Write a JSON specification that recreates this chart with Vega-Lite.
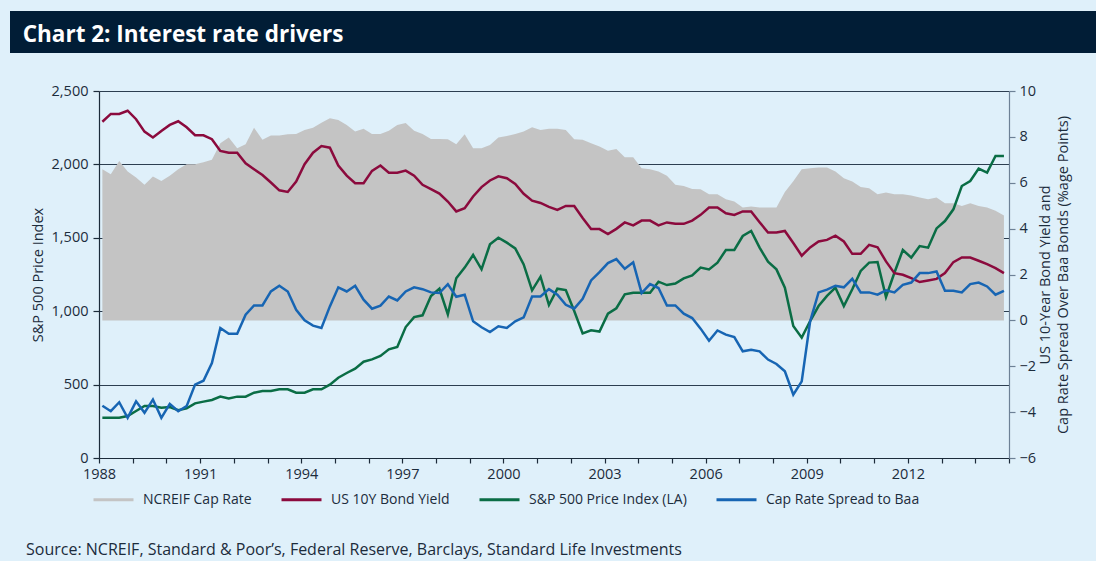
{
  "$schema": "https://vega.github.io/schema/vega-lite/v6.json",
  "background": "#dff0fa",
  "padding": {"left": 10, "top": 11, "right": 0, "bottom": 3},
  "spacing": 30,
  "config": {
    "font": "Open Sans",
    "view": {"stroke": null},
    "axis": {
      "labelFont": "Open Sans", "labelFontSize": 14.5, "labelColor": "#1c2c3c",
      "titleFont": "Open Sans", "titleFontSize": 14.5, "titleFontWeight": "normal", "titleColor": "#1c2c3c",
      "domainColor": "#1c2b3a", "tickColor": "#1c2b3a", "domainWidth": 1.2, "tickWidth": 1.2
    }
  },
  "datasets": {
    "d": [
      {"t": 1988.10, "cap": 6.59, "bond": 8.66, "sp": 275, "spread": -3.72},
      {"t": 1988.35, "cap": 6.37, "bond": 9.00, "sp": 275, "spread": -3.96},
      {"t": 1988.60, "cap": 6.95, "bond": 9.00, "sp": 275, "spread": -3.57},
      {"t": 1988.85, "cap": 6.49, "bond": 9.14, "sp": 286, "spread": -4.25},
      {"t": 1989.10, "cap": 6.23, "bond": 8.77, "sp": 320, "spread": -3.53},
      {"t": 1989.35, "cap": 5.91, "bond": 8.23, "sp": 354, "spread": -4.03},
      {"t": 1989.60, "cap": 6.27, "bond": 7.97, "sp": 354, "spread": -3.45},
      {"t": 1989.85, "cap": 6.08, "bond": 8.26, "sp": 343, "spread": -4.25},
      {"t": 1990.10, "cap": 6.31, "bond": 8.52, "sp": 347, "spread": -3.64},
      {"t": 1990.35, "cap": 6.59, "bond": 8.68, "sp": 325, "spread": -3.96},
      {"t": 1990.60, "cap": 6.81, "bond": 8.42, "sp": 338, "spread": -3.74},
      {"t": 1990.85, "cap": 6.81, "bond": 8.07, "sp": 372, "spread": -2.80},
      {"t": 1991.10, "cap": 6.89, "bond": 8.07, "sp": 384, "spread": -2.63},
      {"t": 1991.35, "cap": 7.00, "bond": 7.90, "sp": 395, "spread": -1.86},
      {"t": 1991.60, "cap": 7.72, "bond": 7.39, "sp": 418, "spread": -0.33},
      {"t": 1991.85, "cap": 7.97, "bond": 7.31, "sp": 406, "spread": -0.58},
      {"t": 1992.10, "cap": 7.50, "bond": 7.31, "sp": 418, "spread": -0.58},
      {"t": 1992.35, "cap": 7.68, "bond": 6.85, "sp": 418, "spread": 0.25},
      {"t": 1992.60, "cap": 8.40, "bond": 6.59, "sp": 445, "spread": 0.65},
      {"t": 1992.85, "cap": 7.87, "bond": 6.34, "sp": 456, "spread": 0.65},
      {"t": 1993.10, "cap": 8.06, "bond": 6.01, "sp": 456, "spread": 1.26},
      {"t": 1993.35, "cap": 8.06, "bond": 5.67, "sp": 468, "spread": 1.51},
      {"t": 1993.60, "cap": 8.11, "bond": 5.60, "sp": 468, "spread": 1.26},
      {"t": 1993.85, "cap": 8.13, "bond": 6.05, "sp": 445, "spread": 0.46},
      {"t": 1994.10, "cap": 8.30, "bond": 6.81, "sp": 445, "spread": 0.00},
      {"t": 1994.35, "cap": 8.40, "bond": 7.31, "sp": 468, "spread": -0.23},
      {"t": 1994.60, "cap": 8.62, "bond": 7.60, "sp": 468, "spread": -0.33},
      {"t": 1994.85, "cap": 8.81, "bond": 7.53, "sp": 500, "spread": 0.61},
      {"t": 1995.10, "cap": 8.74, "bond": 6.75, "sp": 547, "spread": 1.44},
      {"t": 1995.35, "cap": 8.52, "bond": 6.31, "sp": 579, "spread": 1.26},
      {"t": 1995.60, "cap": 8.23, "bond": 5.98, "sp": 609, "spread": 1.51},
      {"t": 1995.85, "cap": 8.35, "bond": 5.98, "sp": 656, "spread": 0.90},
      {"t": 1996.10, "cap": 8.13, "bond": 6.52, "sp": 672, "spread": 0.51},
      {"t": 1996.35, "cap": 8.13, "bond": 6.75, "sp": 695, "spread": 0.64},
      {"t": 1996.60, "cap": 8.27, "bond": 6.44, "sp": 740, "spread": 1.04},
      {"t": 1996.85, "cap": 8.52, "bond": 6.44, "sp": 756, "spread": 0.87},
      {"t": 1997.10, "cap": 8.61, "bond": 6.53, "sp": 892, "spread": 1.26},
      {"t": 1997.35, "cap": 8.27, "bond": 6.31, "sp": 960, "spread": 1.44},
      {"t": 1997.60, "cap": 8.13, "bond": 5.91, "sp": 972, "spread": 1.36},
      {"t": 1997.85, "cap": 7.91, "bond": 5.72, "sp": 1104, "spread": 1.22},
      {"t": 1998.10, "cap": 7.91, "bond": 5.53, "sp": 1153, "spread": 1.19},
      {"t": 1998.35, "cap": 7.90, "bond": 5.18, "sp": 979, "spread": 1.58},
      {"t": 1998.60, "cap": 7.68, "bond": 4.75, "sp": 1224, "spread": 1.03},
      {"t": 1998.85, "cap": 8.11, "bond": 4.89, "sp": 1297, "spread": 1.12},
      {"t": 1999.10, "cap": 7.50, "bond": 5.40, "sp": 1383, "spread": -0.04},
      {"t": 1999.35, "cap": 7.50, "bond": 5.81, "sp": 1285, "spread": -0.30},
      {"t": 1999.60, "cap": 7.65, "bond": 6.10, "sp": 1456, "spread": -0.51},
      {"t": 1999.85, "cap": 7.97, "bond": 6.28, "sp": 1501, "spread": -0.26},
      {"t": 2000.10, "cap": 8.04, "bond": 6.20, "sp": 1467, "spread": -0.33},
      {"t": 2000.35, "cap": 8.13, "bond": 5.95, "sp": 1428, "spread": -0.04},
      {"t": 2000.60, "cap": 8.23, "bond": 5.52, "sp": 1319, "spread": 0.13},
      {"t": 2000.85, "cap": 8.42, "bond": 5.22, "sp": 1142, "spread": 1.04},
      {"t": 2001.10, "cap": 8.30, "bond": 5.12, "sp": 1235, "spread": 1.04},
      {"t": 2001.35, "cap": 8.35, "bond": 4.95, "sp": 1042, "spread": 1.36},
      {"t": 2001.60, "cap": 8.35, "bond": 4.82, "sp": 1153, "spread": 1.12},
      {"t": 2001.85, "cap": 8.30, "bond": 4.99, "sp": 1144, "spread": 0.68},
      {"t": 2002.10, "cap": 7.90, "bond": 4.99, "sp": 1001, "spread": 0.51},
      {"t": 2002.35, "cap": 7.87, "bond": 4.46, "sp": 849, "spread": 0.94},
      {"t": 2002.60, "cap": 7.72, "bond": 3.98, "sp": 870, "spread": 1.74},
      {"t": 2002.85, "cap": 7.58, "bond": 3.98, "sp": 861, "spread": 2.10},
      {"t": 2003.10, "cap": 7.39, "bond": 3.76, "sp": 983, "spread": 2.50},
      {"t": 2003.35, "cap": 7.47, "bond": 3.99, "sp": 1020, "spread": 2.67},
      {"t": 2003.60, "cap": 7.11, "bond": 4.27, "sp": 1115, "spread": 2.25},
      {"t": 2003.85, "cap": 7.11, "bond": 4.14, "sp": 1126, "spread": 2.53},
      {"t": 2004.10, "cap": 6.63, "bond": 4.35, "sp": 1126, "spread": 1.19},
      {"t": 2004.35, "cap": 6.59, "bond": 4.35, "sp": 1126, "spread": 1.58},
      {"t": 2004.60, "cap": 6.49, "bond": 4.14, "sp": 1201, "spread": 1.41},
      {"t": 2004.85, "cap": 6.31, "bond": 4.27, "sp": 1178, "spread": 0.65},
      {"t": 2005.10, "cap": 5.91, "bond": 4.21, "sp": 1188, "spread": 0.65},
      {"t": 2005.35, "cap": 5.86, "bond": 4.21, "sp": 1224, "spread": 0.29},
      {"t": 2005.60, "cap": 5.73, "bond": 4.35, "sp": 1244, "spread": 0.10},
      {"t": 2005.85, "cap": 5.72, "bond": 4.60, "sp": 1297, "spread": -0.36},
      {"t": 2006.10, "cap": 5.50, "bond": 4.92, "sp": 1285, "spread": -0.89},
      {"t": 2006.35, "cap": 5.50, "bond": 4.92, "sp": 1331, "spread": -0.44},
      {"t": 2006.60, "cap": 5.28, "bond": 4.67, "sp": 1417, "spread": -0.62},
      {"t": 2006.85, "cap": 5.18, "bond": 4.60, "sp": 1417, "spread": -0.73},
      {"t": 2007.10, "cap": 4.92, "bond": 4.75, "sp": 1512, "spread": -1.35},
      {"t": 2007.35, "cap": 4.96, "bond": 4.75, "sp": 1546, "spread": -1.28},
      {"t": 2007.60, "cap": 4.92, "bond": 4.28, "sp": 1433, "spread": -1.35},
      {"t": 2007.85, "cap": 4.92, "bond": 3.83, "sp": 1337, "spread": -1.71},
      {"t": 2008.10, "cap": 4.92, "bond": 3.83, "sp": 1285, "spread": -1.90},
      {"t": 2008.35, "cap": 5.60, "bond": 3.90, "sp": 1160, "spread": -2.22},
      {"t": 2008.60, "cap": 6.07, "bond": 3.37, "sp": 899, "spread": -3.24},
      {"t": 2008.85, "cap": 6.59, "bond": 2.82, "sp": 820, "spread": -2.66},
      {"t": 2009.10, "cap": 6.63, "bond": 3.18, "sp": 933, "spread": -0.04},
      {"t": 2009.35, "cap": 6.66, "bond": 3.44, "sp": 1035, "spread": 1.22},
      {"t": 2009.60, "cap": 6.66, "bond": 3.51, "sp": 1104, "spread": 1.34},
      {"t": 2009.85, "cap": 6.49, "bond": 3.69, "sp": 1160, "spread": 1.51},
      {"t": 2010.10, "cap": 6.20, "bond": 3.44, "sp": 1035, "spread": 1.44},
      {"t": 2010.35, "cap": 6.05, "bond": 2.90, "sp": 1149, "spread": 1.81},
      {"t": 2010.60, "cap": 5.82, "bond": 2.90, "sp": 1274, "spread": 1.22},
      {"t": 2010.85, "cap": 5.76, "bond": 3.29, "sp": 1331, "spread": 1.22},
      {"t": 2011.10, "cap": 5.50, "bond": 3.19, "sp": 1335, "spread": 1.12},
      {"t": 2011.35, "cap": 5.57, "bond": 2.57, "sp": 1097, "spread": 1.31},
      {"t": 2011.60, "cap": 5.50, "bond": 2.06, "sp": 1262, "spread": 1.22},
      {"t": 2011.85, "cap": 5.50, "bond": 1.99, "sp": 1417, "spread": 1.55},
      {"t": 2012.10, "cap": 5.44, "bond": 1.84, "sp": 1365, "spread": 1.65},
      {"t": 2012.35, "cap": 5.36, "bond": 1.67, "sp": 1444, "spread": 2.06},
      {"t": 2012.60, "cap": 5.28, "bond": 1.74, "sp": 1433, "spread": 2.06},
      {"t": 2012.85, "cap": 5.36, "bond": 1.81, "sp": 1564, "spread": 2.13},
      {"t": 2013.10, "cap": 5.11, "bond": 2.06, "sp": 1614, "spread": 1.29},
      {"t": 2013.35, "cap": 5.11, "bond": 2.54, "sp": 1694, "spread": 1.29},
      {"t": 2013.60, "cap": 4.99, "bond": 2.74, "sp": 1853, "spread": 1.22},
      {"t": 2013.85, "cap": 5.11, "bond": 2.74, "sp": 1887, "spread": 1.58},
      {"t": 2014.10, "cap": 4.99, "bond": 2.60, "sp": 1971, "spread": 1.65},
      {"t": 2014.35, "cap": 4.92, "bond": 2.45, "sp": 1944, "spread": 1.48},
      {"t": 2014.60, "cap": 4.78, "bond": 2.28, "sp": 2057, "spread": 1.12},
      {"t": 2014.85, "cap": 4.57, "bond": 2.06, "sp": 2057, "spread": 1.29}
    ]
  },
  "vconcat": [
    {
      "width": 1086,
      "height": 42,
      "view": {"fill": "#011d36", "stroke": null},
      "data": {"values": [{"label": "Chart 2: Interest rate drivers"}]},
      "mark": {
        "type": "text", "align": "left", "baseline": "middle", "dx": 12.7, "dy": 3,
        "font": "Open Sans", "fontSize": 22.5, "fontWeight": "bold", "color": "#ffffff"
      },
      "encoding": {
        "x": {"datum": 0, "type": "quantitative", "scale": {"domain": [0, 1]}, "axis": null},
        "text": {"field": "label", "type": "nominal"}
      }
    },
    {
      "width": 999,
      "height": 367,
      "data": {"name": "d"},
      "title": {
        "text": "Source: NCREIF, Standard & Poor’s, Federal Reserve, Barclays, Standard Life Investments",
        "orient": "bottom", "anchor": "start", "frame": "group",
        "dx": 16, "offset": 61,
        "font": "Open Sans", "fontSize": 16, "fontWeight": "normal", "color": "#1c2c3c"
      },
      "encoding": {
        "x": {
          "field": "t", "type": "quantitative",
          "scale": {"domain": [1988, 2015], "range": [89, 999], "nice": false, "zero": false},
          "axis": {
            "title": null,
            "values": [1988, 1989, 1990, 1991, 1992, 1993, 1994, 1995, 1996, 1997, 1998, 1999, 2000, 2001, 2002, 2003, 2004, 2005, 2006, 2007, 2008, 2009, 2010, 2011, 2012, 2013, 2014, 2015],
            "labelExpr": "datum.value % 3 == 2 && datum.value < 2015 ? datum.value : ''",
            "labelOverlap": false, "labelFlush": false,
            "tickSize": 5, "labelPadding": 4, "grid": false
          }
        }
      },
      "layer": [
        {
          "mark": {"type": "area", "opacity": 1},
          "encoding": {
            "y": {
              "field": "cap", "type": "quantitative",
              "scale": {"domain": [-6, 10], "nice": false, "zero": false},
              "axis": {
                "orient": "right",
                "values": [-6, -4, -2, 0, 2, 4, 6, 8, 10],
                "grid": false,
                "domainColor": "#6d8196", "tickColor": "#6d8196",
                "tickSize": 6, "labelPadding": 4,
                "title": ["US 10-Year Bond Yield and", "Cap Rate Spread Over Baa Bonds (%age Points)"],
                "titleAngle": 270, "titleBaseline": "top", "titleLineHeight": 18, "titlePadding": -15
              }
            },
            "y2": {"datum": 0},
            "color": {
              "datum": "NCREIF Cap Rate", "type": "nominal",
              "scale": {
                "domain": ["NCREIF Cap Rate", "US 10Y Bond Yield", "S&P 500 Price Index (LA)", "Cap Rate Spread to Baa"],
                "range": ["#c4c4c4", "#8b0a3d", "#0a6d45", "#1765b3"]
              },
              "legend": {
                "orient": "none", "legendX": 82, "legendY": 467,
                "direction": "horizontal", "title": null,
                "symbolType": "stroke", "symbolSize": 1600, "symbolStrokeWidth": 3,
                "columnPadding": 23, "labelOffset": 8, "labelLimit": 300,
                "labelFont": "Open Sans", "labelFontSize": 14, "labelColor": "#1c2c3c",
                "padding": 0,
                "encode": {
                  "symbols": {
                    "update": {
                      "stroke": {"signal": "scale('color', datum.value)"},
                      "fill": {"value": "transparent"},
                      "strokeWidth": {"signal": "datum.value === 'NCREIF Cap Rate' ? 10 : 3"},
                      "opacity": {"value": 1}
                    }
                  }
                }
              }
            }
          }
        },
        {
          "mark": {"type": "line", "strokeWidth": 2.5},
          "encoding": {
            "y": {
              "field": "sp", "type": "quantitative",
              "scale": {"domain": [0, 2500], "nice": false},
              "axis": {
                "orient": "left", "offset": -89,
                "values": [0, 500, 1000, 1500, 2000, 2500],
                "format": ",.0f",
                "grid": true, "gridColor": "#2c3e50", "gridWidth": 1.2,
                "tickSize": 6, "labelPadding": 5,
                "title": "S&P 500 Price Index", "titlePadding": 6
              }
            },
            "color": {
              "datum": "S&P 500 Price Index (LA)", "type": "nominal",
              "scale": {
                "domain": ["NCREIF Cap Rate", "US 10Y Bond Yield", "S&P 500 Price Index (LA)", "Cap Rate Spread to Baa"],
                "range": ["#c4c4c4", "#8b0a3d", "#0a6d45", "#1765b3"]
              }
            }
          }
        },
        {
          "mark": {"type": "line", "strokeWidth": 2.5},
          "encoding": {
            "y": {
              "field": "bond", "type": "quantitative",
              "scale": {"domain": [-6, 10], "nice": false, "zero": false},
              "axis": null
            },
            "color": {
              "datum": "US 10Y Bond Yield", "type": "nominal",
              "scale": {
                "domain": ["NCREIF Cap Rate", "US 10Y Bond Yield", "S&P 500 Price Index (LA)", "Cap Rate Spread to Baa"],
                "range": ["#c4c4c4", "#8b0a3d", "#0a6d45", "#1765b3"]
              }
            }
          }
        },
        {
          "mark": {"type": "line", "strokeWidth": 2.5},
          "encoding": {
            "y": {
              "field": "spread", "type": "quantitative",
              "scale": {"domain": [-6, 10], "nice": false, "zero": false},
              "axis": null
            },
            "color": {
              "datum": "Cap Rate Spread to Baa", "type": "nominal",
              "scale": {
                "domain": ["NCREIF Cap Rate", "US 10Y Bond Yield", "S&P 500 Price Index (LA)", "Cap Rate Spread to Baa"],
                "range": ["#c4c4c4", "#8b0a3d", "#0a6d45", "#1765b3"]
              }
            }
          }
        }
      ],
      "resolve": {"scale": {"y": "independent"}}
    }
  ]
}
